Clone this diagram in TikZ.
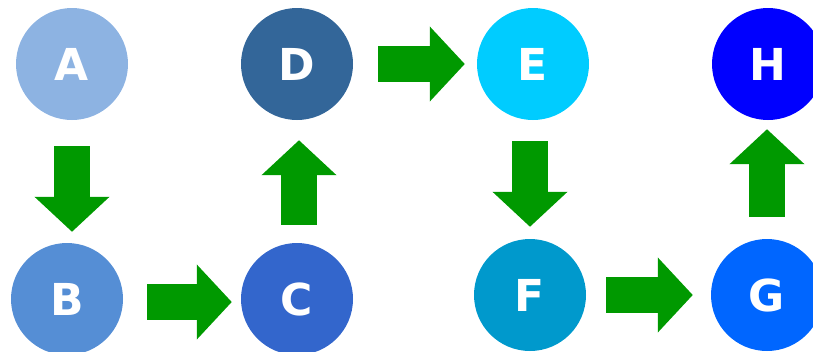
\documentclass[tikz,border=0pt]{standalone}
\usepackage{fontspec}
\setsansfont{DejaVu Sans}
\usetikzlibrary{arrows.meta}

\definecolor{colA}{HTML}{8DB3E2}
\definecolor{colB}{HTML}{558ED5}
\definecolor{colC}{HTML}{3366CC}
\definecolor{colD}{HTML}{336699}
\definecolor{colE}{HTML}{00CCFF}
\definecolor{colF}{HTML}{0099CC}
\definecolor{colG}{HTML}{0066FF}
\definecolor{colH}{HTML}{0000FF}
\definecolor{flow}{HTML}{009900}

\tikzset{
  ball/.style={circle, minimum size=112pt, inner sep=0pt, text=white,
    font=\sffamily\bfseries\fontsize{44}{44}\selectfont},
  fat/.style={flow, line width=36pt, -{Triangle[length=35pt,width=73pt]}}
}

\begin{document}
\begin{tikzpicture}[x=1pt,y=-1pt]
\clip (0,0) rectangle (813,351);
\useasboundingbox (0,0) rectangle (813,351);

% Circles
\node[ball, fill=colA] (A) at (72,64) {A};
\node[ball, fill=colB] (B) at (67,299) {B};
\node[ball, fill=colC] (C) at (297,299) {C};
\node[ball, fill=colD] (D) at (297,64) {D};
\node[ball, fill=colE] (E) at (533,64) {E};
\node[ball, fill=colF] (F) at (530,295) {F};
\node[ball, fill=colG] (G) at (767,295) {G};
\node[ball, fill=colH] (H) at (768,64) {H};

% Arrows
\draw[fat, shorten <=26pt, shorten >=11pt] (A.south) -- (A.south |- B.north);
\draw[fat, shorten <=24pt, shorten >=9pt] ([yshift=-3pt]B.east) -- ([yshift=-3pt]C.west);
\draw[fat, shorten <=18pt, shorten >=20pt] ([xshift=2pt]C.north) -- ([xshift=2pt]C.north |- D.south);
\draw[fat, shorten <=25pt, shorten >=12pt] (D.east) -- (E.west);
\draw[fat, shorten <=21pt, shorten >=12pt] (E.south -| F.north) -- (F.north);
\draw[fat, shorten <=20pt, shorten >=18pt] (F.east) -- (G.west);
\draw[fat, shorten <=22pt, shorten >=9pt] (G.north) -- (G.north |- H.south);
\end{tikzpicture}
\end{document}
